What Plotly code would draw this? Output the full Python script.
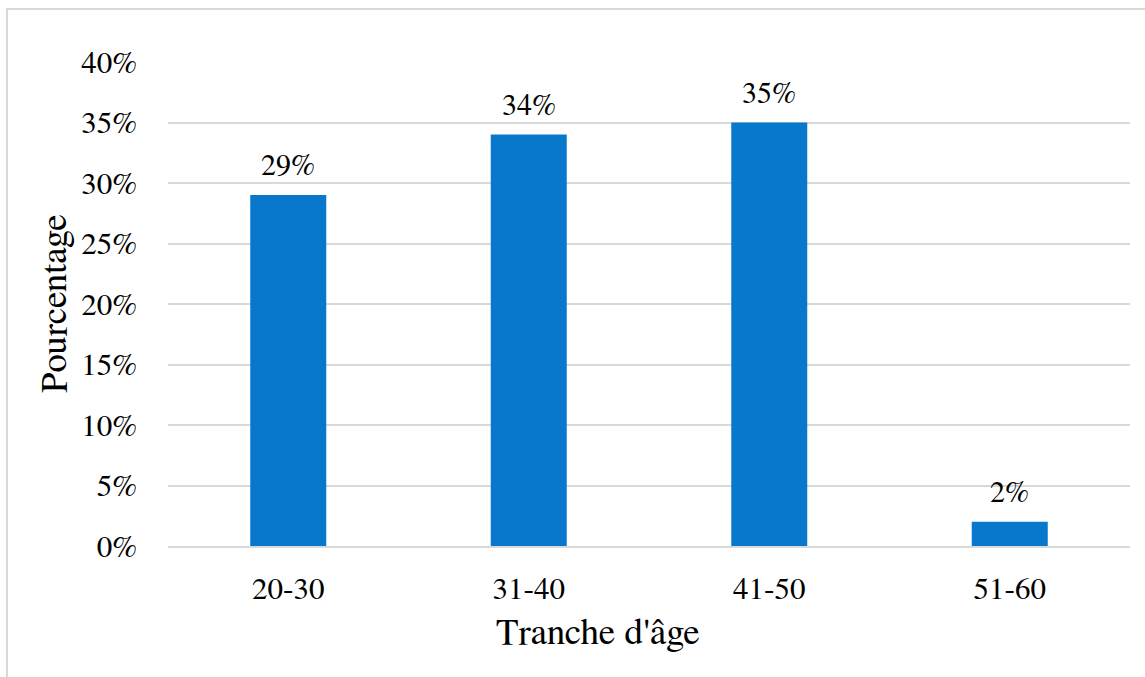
import plotly.graph_objects as go

categories = ["20-30", "31-40", "41-50", "51-60"]
values = [0.29, 0.34, 0.35, 0.02]
labels = ["29%", "34%", "35%", "2%"]
y_ticks = [0, 0.05, 0.10, 0.15, 0.20, 0.25, 0.30, 0.35, 0.40]
y_ticklabels = ["0%", "5%", "10%", "15%", "20%", "25%", "30%", "35%", "40%"]

FONT = "FreeSerif, Liberation Serif, serif"

fig = go.Figure()
fig.add_trace(go.Bar(
    x=categories, y=values,
    marker=dict(color="#0878CC", line=dict(width=0)),
    width=0.316,
    hoverinfo="skip",
))

for c, v, t in zip(categories, values, labels):
    fig.add_annotation(x=c, y=v, text=t, showarrow=False, yanchor="bottom",
                       yshift=12, font=dict(family=FONT, size=30, color="#000000"))

# axis titles
fig.add_annotation(xref="paper", yref="paper", x=(598 - 168) / 962, y=-(633 - 546) / 484,
                   text="Tranche d'âge", showarrow=False, xanchor="center", yanchor="middle",
                   font=dict(family=FONT, size=37, color="#000000"))
fig.add_annotation(xref="paper", yref="paper", x=-(168 - 55) / 962, y=0.5,
                   text="Pourcentage", showarrow=False, textangle=-90,
                   xanchor="center", yanchor="middle",
                   font=dict(family=FONT, size=37, color="#000000"))

fig.update_layout(
    width=1145, height=677,
    margin=dict(l=168, r=15, t=62, b=131),
    paper_bgcolor="white", plot_bgcolor="white",
    showlegend=False,
    font=dict(family=FONT, color="#000000"),
    xaxis=dict(
        showgrid=False, showline=True, linecolor="#D9D9D9", linewidth=2,
        tickfont=dict(family=FONT, size=31, color="#000000"),
        ticklabelstandoff=14,
    ),
    yaxis=dict(
        range=[0, 0.4], tickvals=y_ticks, ticktext=y_ticklabels,
        showgrid=True, gridcolor="#D9D9D9", gridwidth=2, zeroline=False,
        showline=False,
        tickfont=dict(family=FONT, size=31, color="#000000"),
        ticklabelstandoff=30,
    ),
    shapes=[dict(type="rect", xref="paper", yref="paper",
                 x0=-0.1674, x1=1.2, y0=-0.6, y1=1.1095,
                 line=dict(color="#D9D9D9", width=2), fillcolor="rgba(0,0,0,0)", layer="below")],
)

fig.write_html("out.html")
